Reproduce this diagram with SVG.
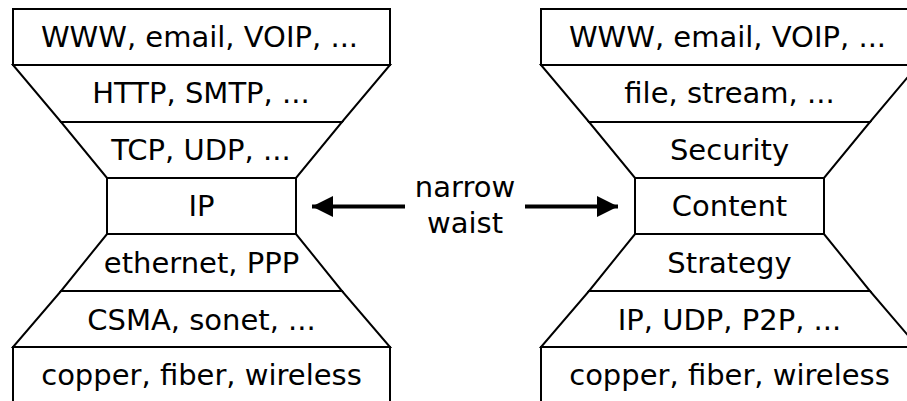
<svg xmlns="http://www.w3.org/2000/svg" width="907" height="401" viewBox="0 0 907 401">
<style>
.s{fill:#fff;stroke:#000;stroke-width:2;stroke-linejoin:miter}
.t{font-family:"DejaVu Sans",sans-serif;font-size:29px;fill:#000;text-anchor:middle}
.c{stroke:#000;stroke-width:4;fill:none}
</style>
<defs>
<marker id="ah" markerUnits="userSpaceOnUse" markerWidth="22" markerHeight="22" refX="21" refY="10.5" orient="auto">
<path d="M0,0 L21,10.5 L0,21 Z" fill="#000"/>
</marker>
</defs>
<rect width="907" height="401" fill="#fff"/>
<g id="left-stack">
<g id="l-app"><polygon class="s" points="13,9 390,9 390,65 13,65"/><text class="t" x="199.5" y="46.5">WWW, email, VOIP, ...</text></g>
<g id="l-http"><polygon class="s" points="13,65 390,65 342,122 61,122"/><text class="t" x="201" y="102.5">HTTP, SMTP, ...</text></g>
<g id="l-tcp"><polygon class="s" points="61,122 342,122 296,178 107,178"/><text class="t" x="201" y="160">TCP, UDP, ...</text></g>
<g id="l-ip"><polygon class="s" points="107,178 296,178 296,234 107,234"/><text class="t" x="201.5" y="216">IP</text></g>
<g id="l-eth"><polygon class="s" points="107,234 296,234 342,291 61,291"/><text class="t" x="201.5" y="272.5">ethernet, PPP</text></g>
<g id="l-csma"><polygon class="s" points="61,291 342,291 390,347 13,347"/><text class="t" x="201.5" y="329.5">CSMA, sonet, ...</text></g>
<g id="l-phys"><polygon class="s" points="13,347 390,347 390,412 13,412"/><text class="t" x="201.5" y="385">copper, fiber, wireless</text></g>
</g>
<g id="right-stack">
<g id="r-app"><polygon class="s" points="541,9 918,9 918,65 541,65"/><text class="t" x="727.5" y="46.5">WWW, email, VOIP, ...</text></g>
<g id="r-file"><polygon class="s" points="541,65 918,65 870,122 589,122"/><text class="t" x="729.5" y="102.5">file, stream, ...</text></g>
<g id="r-sec"><polygon class="s" points="589,122 870,122 824,178 635,178"/><text class="t" x="729.5" y="160">Security</text></g>
<g id="r-content"><polygon class="s" points="635,178 824,178 824,234 635,234"/><text class="t" x="729.5" y="216">Content</text></g>
<g id="r-strat"><polygon class="s" points="635,234 824,234 870,291 589,291"/><text class="t" x="729.5" y="272.5">Strategy</text></g>
<g id="r-ip"><polygon class="s" points="589,291 870,291 918,347 541,347"/><text class="t" x="729.5" y="329.5">IP, UDP, P2P, ...</text></g>
<g id="r-phys"><polygon class="s" points="541,347 918,347 918,412 541,412"/><text class="t" x="729.5" y="385">copper, fiber, wireless</text></g>
</g>
<g id="label">
<text class="t" x="465" y="197">narrow</text>
<text class="t" x="465" y="233">waist</text>
</g>
<g id="connectors">
<line class="c" x1="405" y1="206.5" x2="312" y2="206.5" marker-end="url(#ah)"/>
<line class="c" x1="525" y1="206.5" x2="618" y2="206.5" marker-end="url(#ah)"/>
</g>
</svg>
